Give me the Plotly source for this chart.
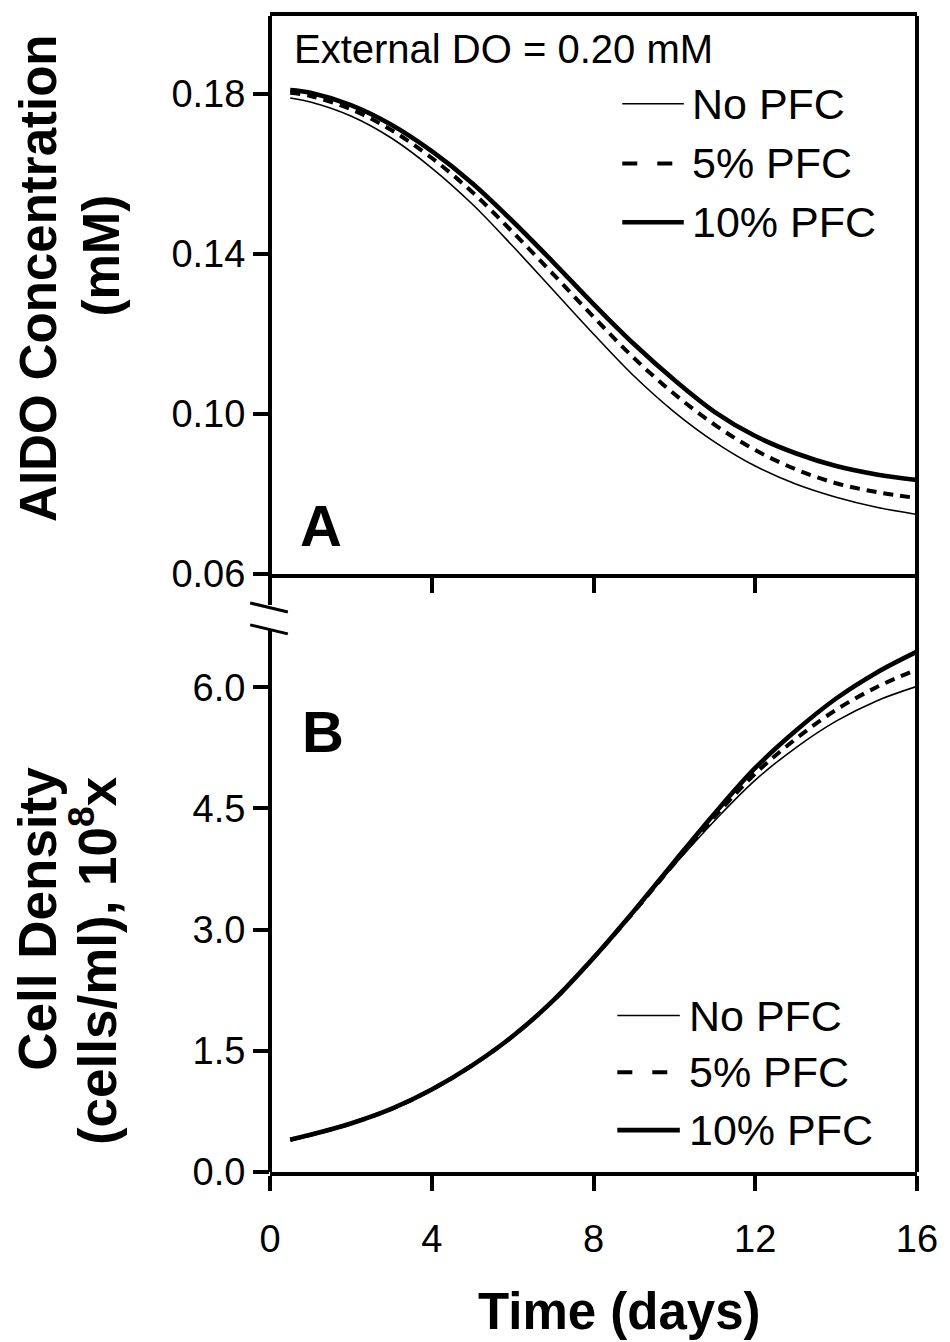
import plotly.graph_objects as go

# ---------------- data ----------------
days = [0.5, 1, 2, 3, 4, 5, 6, 7, 8, 9, 10, 11, 12, 13, 14, 15, 16]

do_no_pfc = [0.1790, 0.1780, 0.1745, 0.1690, 0.1615, 0.1525, 0.1420, 0.1310, 0.1200,
             0.1095, 0.1005, 0.0930, 0.0870, 0.0825, 0.0792, 0.0767, 0.0749]
do_5_pfc = [0.1803, 0.1795, 0.1762, 0.1710, 0.1640, 0.1555, 0.1455, 0.1350, 0.1243,
            0.1140, 0.1050, 0.0973, 0.0910, 0.0862, 0.0827, 0.0805, 0.0790]
do_10_pfc = [0.1810, 0.1803, 0.1772, 0.1723, 0.1657, 0.1577, 0.1482, 0.1380, 0.1275,
             0.1175, 0.1085, 0.1005, 0.0945, 0.0902, 0.0870, 0.0849, 0.0835]

cd_no_pfc = [0.40, 0.46, 0.60, 0.78, 1.02, 1.32, 1.68, 2.12, 2.65, 3.22, 3.80, 4.35,
             4.85, 5.25, 5.58, 5.83, 6.01]
cd_5_pfc = [0.40, 0.46, 0.60, 0.78, 1.02, 1.32, 1.68, 2.12, 2.65, 3.22, 3.82, 4.40,
            4.93, 5.36, 5.72, 6.00, 6.22]
cd_10_pfc = [0.40, 0.46, 0.60, 0.78, 1.02, 1.32, 1.68, 2.12, 2.65, 3.23, 3.84, 4.44,
             5.00, 5.46, 5.86, 6.18, 6.44]

series_names = ["No PFC", "5% PFC", "10% PFC"]
x_ticks = [0, 4, 8, 12, 16]
do_ticks = [0.06, 0.10, 0.14, 0.18]
cd_ticks = [0.0, 1.5, 3.0, 4.5, 6.0]

# ---------------- styling ----------------
FONT = "Liberation Sans, Arial, sans-serif"
styles = [dict(color="black", width=1.6),
          dict(color="black", width=4, dash="10px,7px"),
          dict(color="black", width=4.6)]

W, H = 950, 1342
L, R, T, B = 270, 922, 12, 1172  # plot area in px


def px(x):
    return (x - L) / (R - L)


def py(y):
    return (B - y) / (B - T)


split = py(572)

fig = go.Figure()
for name, ys, st in zip(series_names, [do_no_pfc, do_5_pfc, do_10_pfc], styles):
    fig.add_trace(go.Scatter(x=days, y=ys, mode="lines", line=dict(shape="spline", **st),
                             name=name, showlegend=False, xaxis="x2", yaxis="y2"))
for name, ys, st in zip(series_names, [cd_no_pfc, cd_5_pfc, cd_10_pfc], styles):
    fig.add_trace(go.Scatter(x=days, y=ys, mode="lines", line=dict(shape="spline", **st),
                             name=name, showlegend=False, xaxis="x", yaxis="y"))

tickfont = dict(family=FONT, size=38, color="black")
fig.update_layout(
    width=W, height=H,
    margin=dict(l=L, r=W - R, t=T, b=H - B),
    plot_bgcolor="white", paper_bgcolor="white",
    showlegend=False,
    xaxis=dict(domain=[0, 1], range=[0, 16], anchor="y", tickvals=x_ticks,
               ticks="outside", ticklen=15, tickwidth=3.5, tickcolor="black",
               showline=True, linewidth=4, linecolor="black", showgrid=False,
               zeroline=False, tickfont=tickfont, ticklabelstandoff=15),
    xaxis2=dict(domain=[0, 1], range=[0, 16], anchor="y2", tickvals=x_ticks,
                ticks="outside", ticklen=15, tickwidth=3.5, tickcolor="black",
                showline=True, linewidth=4, linecolor="black", mirror=True,
                showgrid=False, zeroline=False, showticklabels=False),
    yaxis=dict(domain=[0, split], range=[0, 7.4], anchor="x", tickvals=cd_ticks,
               ticktext=[f"{v:.1f}" for v in cd_ticks], ticks="outside", ticklen=16,
               tickwidth=3.5, tickcolor="black", showline=False, showgrid=False,
               zeroline=False, tickfont=tickfont),
    yaxis2=dict(domain=[split, 1], range=[0.06, 0.1995], anchor="x2", tickvals=do_ticks,
                ticktext=[f"{v:.2f}" for v in do_ticks], ticks="outside", ticklen=16,
                tickwidth=3.5, tickcolor="black", showline=False, showgrid=False,
                zeroline=False, tickfont=tickfont),
)

shapes = []
blk = dict(color="black", width=4)
# left axis lines with break
shapes.append(dict(type="line", xref="paper", yref="paper", x0=0, x1=0, y0=1, y1=py(603), line=blk))
shapes.append(dict(type="line", xref="paper", yref="paper", x0=0, x1=0, y0=py(628), y1=0, line=blk))
# right border
shapes.append(dict(type="line", xref="paper", yref="paper", x0=1, x1=1, y0=0, y1=1, line=blk))
# break marks
for y0, y1 in [(601, 610), (623, 632)]:
    shapes.append(dict(type="line", xref="paper", yref="paper", x0=px(250), x1=px(288),
                       y0=py(y0), y1=py(y1), line=dict(color="black", width=3)))

# legend samples
annotations = []
for rows, lx0, lx1, tx in [([100, 160, 219], 625, 687, 693), ([1015, 1072, 1130], 620, 683, 690)]:
    for name, st, ry in zip(series_names, styles, rows):
        lst = dict(st)
        if "dash" in lst:
            lst["dash"] = "15px,20px"
        shapes.append(dict(type="line", xref="paper", yref="paper", x0=px(lx0), x1=px(lx1),
                           y0=py(ry), y1=py(ry), line=lst))
        annotations.append(dict(text=name, xref="paper", yref="paper", x=px(tx), y=py(ry),
                                xanchor="left", yanchor="middle", showarrow=False,
                                font=dict(family=FONT, size=43, color="black")))

annotations.append(dict(text="External DO = 0.20 mM", xref="paper", yref="paper",
                        x=px(292), y=py(45), xanchor="left", yanchor="middle", showarrow=False,
                        font=dict(family=FONT, size=40, color="black")))
annotations.append(dict(text="<b>A</b>", xref="paper", yref="paper", x=px(298), y=py(523),
                        xanchor="left", yanchor="middle", showarrow=False,
                        font=dict(family=FONT, size=58, color="black")))
annotations.append(dict(text="<b>B</b>", xref="paper", yref="paper", x=px(300), y=py(730),
                        xanchor="left", yanchor="middle", showarrow=False,
                        font=dict(family=FONT, size=58, color="black")))

for text, cx, cy, size in [("<b>AIDO Concentration</b>", 36, 275, 51),
                           ("<b>(mM)</b>", 100, 252, 51),
                           ("<b>Cell Density</b>", 36, 918, 53),
                           ("<b>(cells/ml), 10<sup>8</sup>x</b>", 92, 960, 53)]:
    annotations.append(dict(text=text, xref="paper", yref="paper", x=px(cx), y=py(cy),
                            xanchor="center", yanchor="middle", textangle=-90,
                            showarrow=False, font=dict(family=FONT, size=size, color="black")))

annotations.append(dict(text="<b>Time (days)</b>", xref="paper", yref="paper", x=px(622),
                        y=py(1312), xanchor="center", yanchor="middle", showarrow=False,
                        font=dict(family=FONT, size=51, color="black")))

fig.update_layout(shapes=shapes, annotations=annotations)
fig.write_html("out.html")
